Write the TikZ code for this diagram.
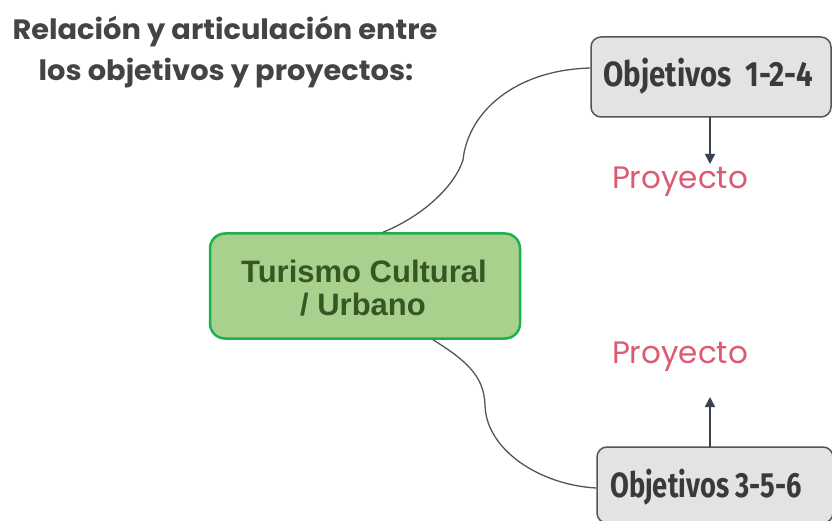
\documentclass[tikz,border=0pt]{standalone}
\usepackage{fontspec}
\setmainfont{Liberation Sans}
\newfontfamily\titlefont{Poppins}
\newfontfamily\projfont{Poppins}
\newfontfamily\objfont{Fira Sans}
\usetikzlibrary{arrows.meta}
\definecolor{titlegray}{HTML}{444444}
\definecolor{boxgray}{HTML}{E3E3E3}
\definecolor{boxborder}{HTML}{555555}
\definecolor{objtext}{HTML}{3A3A3A}
\definecolor{greenfill}{HTML}{A9D18E}
\definecolor{greenborder}{HTML}{1DB04F}
\definecolor{greentext}{HTML}{375623}
\definecolor{projred}{HTML}{DE5A72}
\definecolor{arrowcol}{HTML}{3A4250}
\definecolor{curvecol}{HTML}{555555}
\tikzset{
  objbox/.style={draw=boxborder, line width=1.5pt, fill=boxgray, rounded corners=10pt, inner sep=0pt},
  objlabel/.style={font=\objfont\bfseries\fontsize{35}{38}\selectfont, text=objtext, inner sep=0pt},
  mainbox/.style={draw=greenborder, line width=2.5pt, fill=greenfill, rounded corners=15pt, inner sep=0pt,
    minimum width=310pt, minimum height=105pt},
  greenlabel/.style={font=\bfseries\fontsize{31}{35}\selectfont, text=greentext, anchor=base, inner sep=0pt},
  titlestyle/.style={font=\titlefont\bfseries\fontsize{28}{32}\selectfont, text=titlegray, inner sep=0pt},
  projstyle/.style={font=\projfont\fontsize{31}{34}\selectfont, text=projred, inner sep=0pt},
  link/.style={draw=curvecol, line width=1.3pt},
  arr/.style={draw=arrowcol, line width=1.6pt, -{Triangle[length=10pt,width=10pt]}}
}
\begin{document}
\begin{tikzpicture}[x=1pt,y=-1pt]
\useasboundingbox[fill=white] (0,0) rectangle (832,521);
% title
\node[titlestyle, anchor=base] (t1) at (225,40) {\scalebox{1.03}[1]{Relación y articulación entre}};
\node[titlestyle, anchor=base] (t2) at (226,81) {\scalebox{1.03}[1]{los objetivos y proyectos:}};
% boxes
\node[objbox, minimum width=240pt, minimum height=80pt] (o1) at (711,77) {};
\node[objlabel, anchor=base] (o1t) at (708,87) {\scalebox{0.84}[1]{Objetivos\ \ 1-2-4}};
\node[objbox, minimum width=236pt, minimum height=76pt] (o2) at (715,485) {};
\node[objlabel, anchor=base] (o2t) at (706,497) {\scalebox{0.78}[1]{Objetivos 3-5-6}};
\node[mainbox] (g) at (365,286) {};
\node[greenlabel] (g1) at (364,282) {Turismo Cultural};
\node[greenlabel] (g2) at (363,315) {/ Urbano};
% proyecto labels
\node[projstyle, anchor=base] (p1) at (680,189) {Proyecto};
\node[projstyle, anchor=base] (p2) at (680,363) {Proyecto};
% arrows
\coordinate (a1s) at (710,117);
\coordinate (a1e) at (710,164);
\coordinate (a2s) at (710,447);
\coordinate (a2e) at (710,397);
\draw[arr] (a1s) -- (a1e);
\draw[arr] (a2s) -- (a2e);
% curves
\coordinate (c1s) at ([xshift=18pt]g.north);
\coordinate (c1e) at ([yshift=9pt]o1.west);
\coordinate (c2s) at ([xshift=68pt]g.south);
\coordinate (c2e) at ([yshift=-3pt]o2.west);
\draw[link] (c1s) .. controls (425,215) and (455,185) .. (463,160)
  .. controls (468,112) and (515,70) .. (c1e);
\draw[link] (c2s) .. controls (465,360) and (484,375) .. (485,405)
  .. controls (486,450) and (540,485) .. (c2e);
\end{tikzpicture}
\end{document}
